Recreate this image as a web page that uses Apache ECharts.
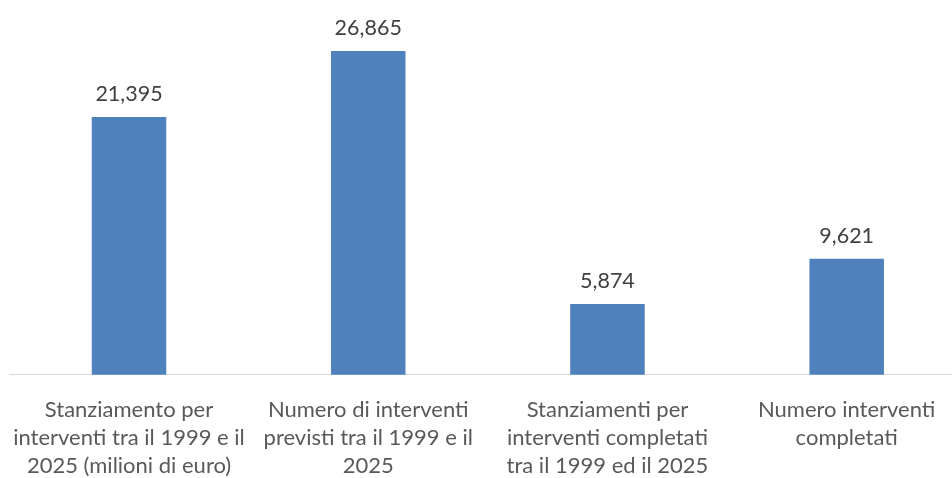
<!DOCTYPE html>
<html><head><meta charset="utf-8">
<script src="https://cdn.jsdelivr.net/npm/echarts@6/dist/echarts.min.js"></script>
<style>html,body{margin:0;padding:0;background:#fff}#c{width:952px;height:478px}</style>
</head><body><div id="c"></div>
<script>
const categories = [
  "Stanziamento per\ninterventi tra il 1999 e il\n2025 (milioni di euro)",
  "Numero di interventi\nprevisti tra il 1999 e il\n2025",
  "Stanziamenti per\ninterventi completati\ntra il 1999 ed il 2025",
  "Numero interventi\ncompletati"
];
const values = [21395, 26865, 5874, 9621];

const chart = echarts.init(document.getElementById('c'));
chart.setOption({
  animation: false,
  grid: {left: 9.4, right: -14.3, top: 13.2, bottom: 103.3, outerBoundsMode: 'none', containLabel: false},
  xAxis: {
    type: 'category', data: categories,
    axisLine: {lineStyle: {color: '#d9d9d9', width: 1}},
    axisTick: {show: false},
    axisLabel: {interval: 0, color: '#595959', fontFamily: 'Lato', fontSize: 22, lineHeight: 28, margin: 21}
  },
  yAxis: {type: 'value', min: 0, max: 30000, show: false, splitLine: {show: false}},
  series: [{
    type: 'bar', data: values, barWidth: 74.5,
    itemStyle: {color: '#4f81bd'},
    label: {show: true, position: 'top', distance: 12, color: '#404040', fontFamily: 'Lato', fontSize: 21.5,
      formatter: p => p.value.toLocaleString('en-US')}
  }]
});
</script></body></html>
